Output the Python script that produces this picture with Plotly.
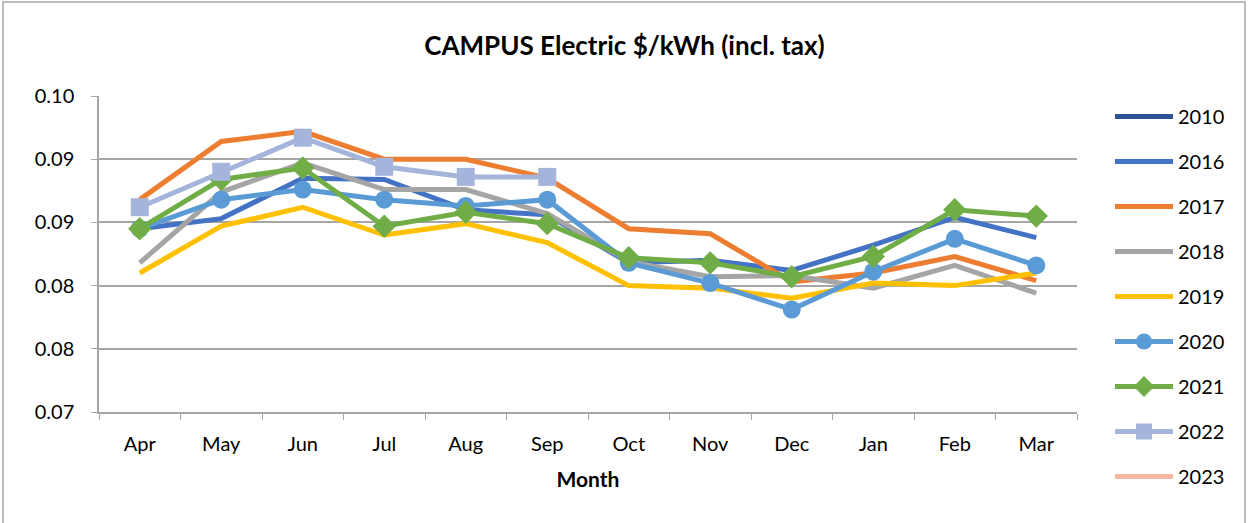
import plotly.graph_objects as go

months = ["Apr", "May", "Jun", "Jul", "Aug", "Sep", "Oct", "Nov", "Dec", "Jan", "Feb", "Mar"]

y2010 = [None] * 12
y2016 = [0.0845, 0.0853, 0.0885, 0.0884, 0.0860, 0.0856, 0.0818, 0.0820, 0.0812, 0.0832, 0.0854, 0.0838]
y2017 = [0.0868, 0.0914, 0.0922, 0.0900, 0.0900, 0.0885, 0.0845, 0.0841, 0.0803, 0.0810, 0.0823, 0.0804]
y2018 = [0.0818, 0.0874, 0.0897, 0.0876, 0.0876, 0.0857, 0.0819, 0.0807, 0.0808, 0.0798, 0.0816, 0.0794]
y2019 = [0.0810, 0.0847, 0.0862, 0.0840, 0.0849, 0.0834, 0.0800, 0.0798, 0.0790, 0.0802, 0.0800, 0.0810]
y2020 = [0.0845, 0.0868, 0.0876, 0.0868, 0.0863, 0.0868, 0.0818, 0.0802, 0.0781, 0.0811, 0.0837, 0.0816]
y2021 = [0.0845, 0.0884, 0.0893, 0.0847, 0.0858, 0.0849, 0.0822, 0.0818, 0.0807, 0.0823, 0.0860, 0.0855]
y2022 = [0.0862, 0.0890, 0.0917, 0.0894, 0.0886, 0.0886, None, None, None, None, None, None]
y2023 = [None] * 12

y_tickvals = [0.070, 0.075, 0.080, 0.085, 0.090, 0.095]
y_ticktext = ["0.07", "0.08", "0.08", "0.09", "0.09", "0.10"]

series = [
    ("2010", y2010, "#2F5496", None),
    ("2016", y2016, "#4472C4", None),
    ("2017", y2017, "#ED7D31", None),
    ("2018", y2018, "#A5A5A5", None),
    ("2019", y2019, "#FFC000", None),
    ("2020", y2020, "#5B9BD5", "circle"),
    ("2021", y2021, "#70AD47", "diamond"),
    ("2022", y2022, "#A5B4DB", "square"),
    ("2023", y2023, "#F4B9A0", None),
]

fig = go.Figure()
for name, ys, color, sym in series:
    kw = dict(mode="lines")
    if sym:
        kw = dict(mode="lines+markers",
                  marker=dict(symbol=sym, size=18, color=color, line=dict(width=0)))
    fig.add_trace(go.Scatter(
        x=months, y=ys, name=name, legendgroup=name, connectgaps=False,
        line=dict(color=color, width=5), **kw))

font = "Lato, 'Open Sans', sans-serif"
PW, PH = 978, 316
fig.update_layout(
    width=1249, height=523,
    margin=dict(l=99, r=172, t=96, b=111, autoexpand=False),
    paper_bgcolor="white", plot_bgcolor="white",
    font=dict(family=font, size=20, color="#000000"),
    title=dict(text="<b>CAMPUS Electric $/kWh (incl. tax)</b>", x=0.5, xanchor="center",
               y=1 - 46 / 523, yanchor="middle", font=dict(size=26, family=font)),
    showlegend=True,
    legend=dict(x=1 + 33 / PW, xanchor="left", y=1 - 1 / PH, yanchor="top", traceorder="grouped",
                tracegroupgap=16, itemwidth=58, font=dict(size=20, family=font),
                bgcolor="rgba(0,0,0,0)", maxheight=600),
    xaxis=dict(type="category", categoryorder="array", categoryarray=months,
               range=[-0.5, 11.5], showgrid=False, showline=True, linecolor="#A6A6A6", linewidth=1.5,
               ticks="outside", tickson="boundaries", ticklen=6, tickcolor="#A6A6A6",
               tickfont=dict(size=20), ticklabelstandoff=13,
               title=dict(text="<b>Month</b>", font=dict(size=21), standoff=19)),
    yaxis=dict(range=[0.070, 0.095], tickvals=y_tickvals, ticktext=y_ticktext,
               showgrid=True, gridcolor="#A6A6A6", gridwidth=1.5, showline=True, linecolor="#A6A6A6",
               linewidth=1.5, ticks="outside", ticklen=6, tickcolor="#A6A6A6", zeroline=False,
               tickfont=dict(size=20), ticklabelstandoff=13),
    shapes=[dict(type="rect", xref="paper", yref="paper",
                 x0=-96 / PW, x1=1 + 168 / PW, y0=-112 / PH, y1=1 + 94 / PH,
                 line=dict(color="#A6A6A6", width=1.5), fillcolor="rgba(0,0,0,0)", layer="below")],
)

fig.write_html("out.html", config={"displayModeBar": False},
               post_script="document.body.style.margin='0px';document.body.style.overflow='hidden';")
